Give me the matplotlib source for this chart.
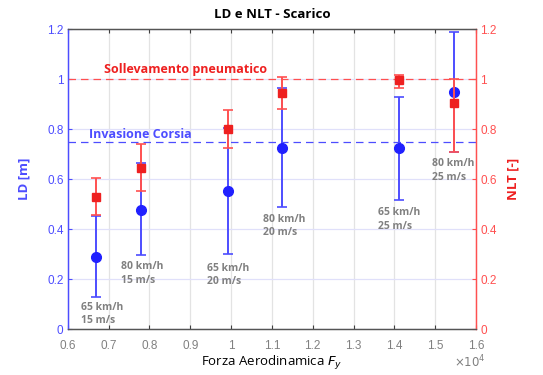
import matplotlib
matplotlib.use("Agg")
import matplotlib.pyplot as plt
import numpy as np

# ---- data ----
forza = [6690, 7800, 9930, 11250, 14110, 15470]
ld = [0.290, 0.478, 0.553, 0.726, 0.724, 0.950]
ld_low = [0.130, 0.296, 0.300, 0.489, 0.517, 0.710]
ld_high = [0.454, 0.664, 0.806, 0.965, 0.929, 1.190]
nlt = [0.530, 0.644, 0.801, 0.944, 0.998, 0.904]
nlt_low = [0.458, 0.553, 0.726, 0.882, 0.966, 0.710]
nlt_high = [0.604, 0.741, 0.876, 1.008, 1.017, 1.001]
labels = ["65 km/h\n15 m/s", "80 km/h\n15 m/s", "65 km/h\n20 m/s",
          "80 km/h\n20 m/s", "65 km/h\n25 m/s", "80 km/h\n25 m/s"]
label_x = [6320, 7305, 9404, 10790, 13607, 14930]
label_y = [0.060, 0.223, 0.218, 0.413, 0.439, 0.635]
xticks = [0.6, 0.7, 0.8, 0.9, 1.0, 1.1, 1.2, 1.3, 1.4, 1.5, 1.6]
yticks = [0, 0.2, 0.4, 0.6, 0.8, 1.0, 1.2]
ld_threshold = 0.75
nlt_threshold = 1.0

BLUE = "#2020ff"
BLUE_L = "#4d4dff"
RED = "#ee2020"
RED_L = "#ff5050"
GRAY = "#808080"
TXT = "Open Sans"

x = np.array(forza) / 1e4
ld_a = np.array(ld)
nlt_a = np.array(nlt)

fig = plt.figure(figsize=(5.43, 3.75), dpi=100)
ax = fig.add_axes([0.1247, 0.1219, 0.8766 - 0.1247, 0.9219 - 0.1219])
ax2 = ax.twinx()

ax.set_xlim(0.6, 1.6)
ax.set_ylim(0, 1.2)
ax2.set_ylim(0, 1.2)

# grid
for xt in xticks:
    ax.axvline(xt, color="#e3e3e3", lw=0.9, zorder=0)
for yt in yticks:
    ax.axhline(yt, color="#e0e0fa", lw=0.9, zorder=0)

# thresholds
ax.axhline(ld_threshold, color=BLUE_L, lw=0.9, ls=(0, (6, 4)), zorder=1)
ax2.axhline(nlt_threshold, color=RED_L, lw=0.9, ls=(0, (6, 4)), zorder=1)

# LD error bars
ax.errorbar(x, ld_a, yerr=[ld_a - np.array(ld_low), np.array(ld_high) - ld_a],
            fmt="o", color=BLUE_L, mfc=BLUE, mec=BLUE, ms=7, elinewidth=1.4,
            capsize=3.5, capthick=1.2, zorder=3)
# NLT error bars
ax2.errorbar(x, nlt_a, yerr=[nlt_a - np.array(nlt_low), np.array(nlt_high) - nlt_a],
             fmt="s", color=RED_L, mfc=RED, mec=RED, ms=5.5, elinewidth=1.4,
             capsize=3.5, capthick=1.2, zorder=3)

for lx, ly, lab in zip(label_x, label_y, labels):
    ax.text(lx / 1e4, ly, lab, color=GRAY, fontsize=7.5, fontweight="bold",
            family=TXT, ha="left", va="center", linespacing=1.3, zorder=4)

ax.text(0.689, 1.04, "Sollevamento pneumatico", color=RED, fontsize=9,
        fontweight="bold", family=TXT, ha="left", va="center")
ax.text(0.653, 0.781, "Invasione Corsia", color=BLUE_L, fontsize=9,
        fontweight="bold", family=TXT, ha="left", va="center")

# ticks
ax.set_xticks(xticks)
ax.set_xticklabels([f"{t:g}" for t in xticks], color=GRAY, fontsize=8.5, family="Liberation Sans")
ax.set_yticks(yticks)
ax.set_yticklabels([f"{t:g}" for t in yticks], color=BLUE_L, fontsize=8.5, family="Liberation Sans")
ax2.set_yticks(yticks)
ax2.set_yticklabels([f"{t:g}" for t in yticks], color=RED_L, fontsize=8.5, family="Liberation Sans")
ax.tick_params(axis="x", direction="in", length=3, color="#404040", top=True, pad=8)
ax.tick_params(axis="y", direction="in", length=3, color=BLUE_L, pad=3)
ax2.tick_params(axis="y", direction="in", length=3, color=RED_L, pad=3)

for a in (ax, ax2):
    a.spines["top"].set_color("#555555")
    a.spines["bottom"].set_color("#555555")
    a.spines["left"].set_color(BLUE_L)
    a.spines["right"].set_color(RED_L)
    for s in a.spines.values():
        s.set_linewidth(0.9)

ax.set_ylabel("LD [m]", color=BLUE_L, fontsize=9.5, fontweight="bold", family=TXT, labelpad=12)
ax2.set_ylabel("NLT [-]", color=RED, fontsize=9.5, fontweight="bold", family=TXT, labelpad=7)
ax.set_xlabel("Forza Aerodinamica $F_y$", fontsize=9.5, family=TXT, labelpad=1)
ax.set_title("LD e NLT - Scarico", fontsize=9.5, fontweight="bold", family=TXT, pad=8)

fig.text(454 / 543, 1 - 362 / 375, r"$\times10^4$", color=GRAY, fontsize=8.5,
         ha="left", va="center")

fig.savefig("out.png", dpi=100)
